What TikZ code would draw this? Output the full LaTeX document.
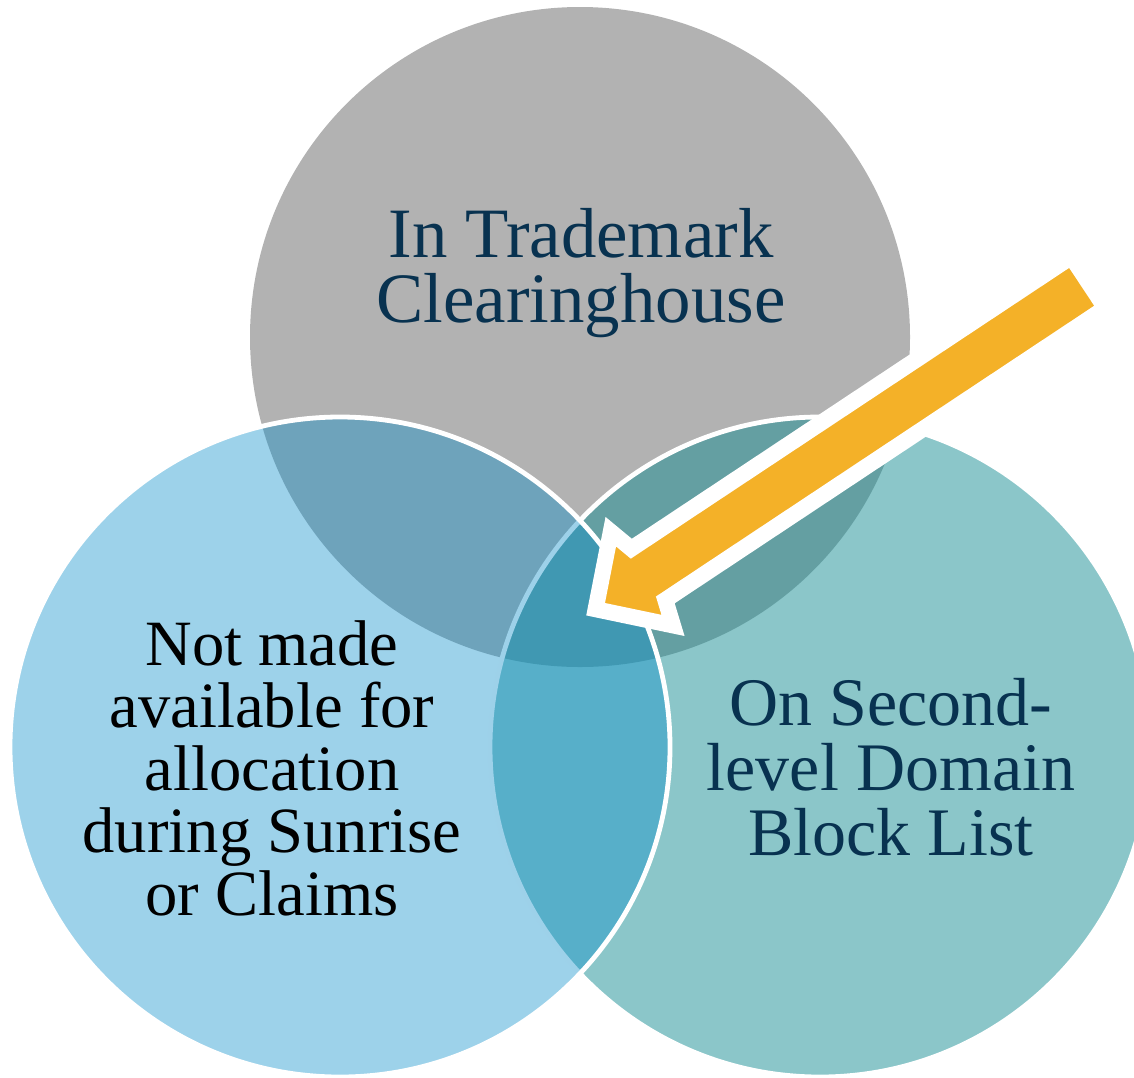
\documentclass[tikz,border=0pt]{standalone}
\usepackage{fontspec}
\setmainfont{Liberation Serif}
\definecolor{tmgray}{RGB}{178,178,178}
\definecolor{sunriseblue}{RGB}{10,142,202}
\definecolor{blockteal}{RGB}{23,141,147}
\definecolor{arroworange}{RGB}{244,177,40}
\definecolor{textnavy}{RGB}{8,50,80}
\begin{document}
\begin{tikzpicture}[x=0.5pt,y=-0.5pt,
    vennlabel/.style={align=center, inner sep=0pt, text=textnavy}]
  \useasboundingbox (0,0) rectangle (1134,1077);
  \clip (0,0) rectangle (1134,1077);
  % the three sets
  \fill[tmgray] (580,337) circle[radius=165pt];
  \draw[white, line width=2.4pt, fill=blockteal, fill opacity=0.5] (820,747) circle[radius=165pt];
  \draw[white, line width=2.4pt, fill=sunriseblue, fill opacity=0.4] (340,747) circle[radius=165pt];
  % arrow into the common part
  \draw[white, line width=8pt, line join=miter, fill=arroworange]
    (595.6,609.2) -- (610.8,531.7) -- (631.3,548.7) -- (1071.4,256.8)
    -- (1105.3,308.0) -- (665.3,599.9) -- (673.0,625.4) -- cycle;
  % texts
  \node[vennlabel, font=\fontsize{35.4}{32.5}\selectfont] (tmch) at (581,273) {In Trademark\\Clearinghouse};
  \node[vennlabel, text=black, font=\fontsize{32.3}{31.25}\selectfont] (notavail) at (272,768) {Not made\\available for\\allocation\\during Sunrise\\or Claims};
  \node[vennlabel, font=\fontsize{34}{32.5}\selectfont] (sldbl) at (891,767) {On Second-\\level Domain\\Block List};
\end{tikzpicture}
\end{document}
